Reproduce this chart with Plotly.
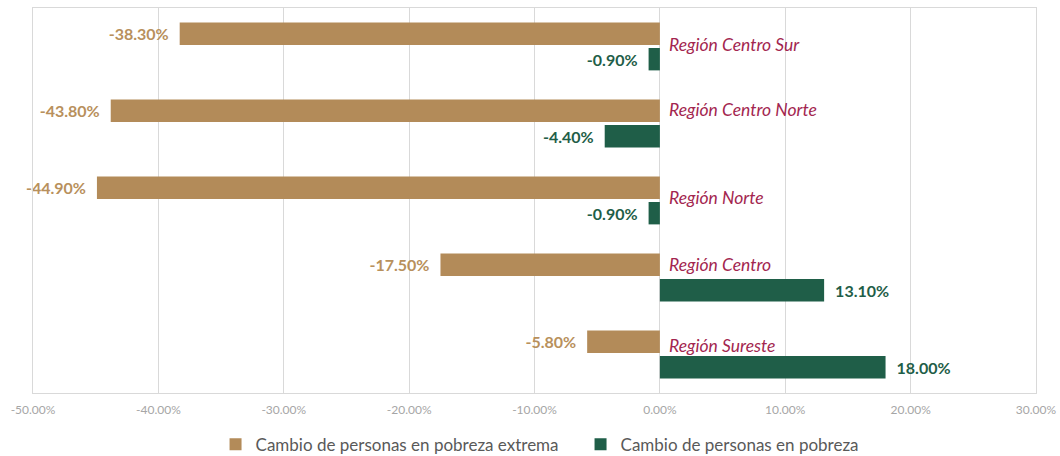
import plotly.graph_objects as go

regions = ["Región Centro Sur", "Región Centro Norte", "Región Norte", "Región Centro", "Región Sureste"]
extrema = [-0.383, -0.438, -0.449, -0.175, -0.058]
pobreza = [-0.009, -0.044, -0.009, 0.131, 0.180]
x_ticks = [-0.5, -0.4, -0.3, -0.2, -0.1, 0.0, 0.1, 0.2, 0.3]
x_tick_labels = ["-50.00%", "-40.00%", "-30.00%", "-20.00%", "-10.00%", "0.00%", "10.00%", "20.00%", "30.00%"]
series_names = ["Cambio de personas en pobreza extrema", "Cambio de personas en pobreza"]

brown = "#b38b59"
green = "#1f5e48"
font_fam = "Lato, 'Open Sans', sans-serif"
label_yshift = [2, 14, 3, 13, 9]

fig = go.Figure()
fig.add_trace(go.Bar(
    y=regions, x=extrema, orientation="h", name=series_names[0],
    marker=dict(color=brown, line=dict(width=0)),
    text=[f"{v*100:.2f}%\u2002" for v in extrema], textposition="outside",
    textfont=dict(color="#b8905c", size=16, family=font_fam, weight="bold"),
    cliponaxis=False, constraintext="none",
))
fig.add_trace(go.Bar(
    y=regions, x=pobreza, orientation="h", name=series_names[1],
    marker=dict(color=green, line=dict(width=0)),
    text=[(f"{v*100:.2f}%\u2002" if v < 0 else f"\u2002{v*100:.2f}%") for v in pobreza],
    textposition="outside",
    textfont=dict(color=green, size=16, family=font_fam, weight="bold"),
    cliponaxis=False, constraintext="none",
))

for r, ys in zip(regions, label_yshift):
    fig.add_annotation(x=0, y=r, xref="x", yref="y", text=r, showarrow=False,
                       xanchor="left", yanchor="middle", xshift=7, yshift=ys,
                       font=dict(color="#a3264f", size=17.5, family=font_fam, style="italic"))

fig.update_layout(
    width=1060, height=456,
    margin=dict(l=33, r=24, t=8, b=63, autoexpand=False),
    paper_bgcolor="white", plot_bgcolor="white",
    barmode="group", bargap=0.34, bargroupgap=0.12,
    font=dict(family=font_fam, color="#595959"),
    xaxis=dict(range=[-0.5, 0.3], tickvals=x_ticks, ticktext=x_tick_labels,
               showgrid=True, gridcolor="#d9d9d9", gridwidth=1, automargin=False,
               zeroline=False, showline=True, linecolor="#d9d9d9", mirror=True,
               tickfont=dict(size=12, color="#a6a6a6"), ticks="", ticklabelstandoff=6),
    yaxis=dict(autorange="reversed", showticklabels=False, showgrid=False, automargin=False,
               zeroline=False, showline=True, linecolor="#d9d9d9", mirror=True, ticks=""),
    legend=dict(orientation="h", x=0.182, xanchor="left", yref="container", y=0.025,
                yanchor="middle", font=dict(size=17, color="#595959"),
                entrywidth=320, traceorder="normal"),
    showlegend=True,
)

fig.write_html("out.html", config={"displayModeBar": False},
               post_script="document.body.style.margin='0';document.body.style.overflow='hidden';")
